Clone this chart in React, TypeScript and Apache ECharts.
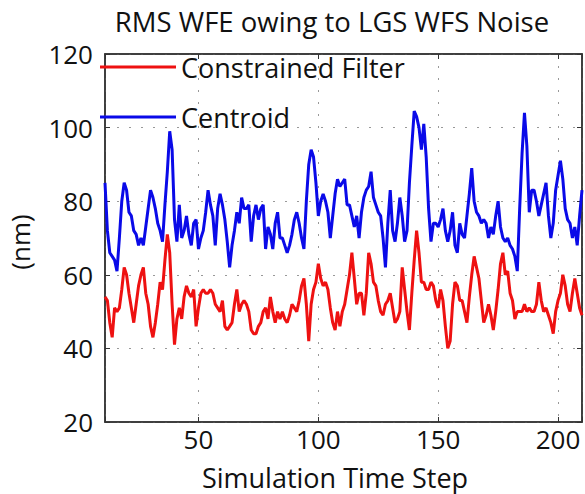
import React, { useEffect, useRef } from "react";
import * as echarts from "echarts";

const xStart = 11;
const seriesNames = ["Constrained Filter", "Centroid"];
const xTicks = [50, 100, 150, 200];
const yTicks = [20, 40, 60, 80, 100, 120];

const constrained = [
  54, 53, 47, 43, 51, 50, 51, 56, 62, 60, 55, 51, 47, 52, 57, 60, 62, 55, 52, 46,
  43, 47, 52, 58, 56, 64, 71, 66, 52, 41, 48, 51, 48, 54, 57, 55, 54, 56, 46, 51,
  55, 56, 55, 55, 56, 55, 52, 51, 50, 53, 46, 45, 46, 47, 52, 56, 50, 52, 53, 52,
  50, 45, 44, 44, 46, 47, 50, 51, 48, 54, 50, 47, 50, 48, 50, 48, 47, 49, 52, 51,
  50, 53, 57, 59, 52, 42, 52, 56, 58, 63, 59, 57, 58, 56, 51, 47, 45, 50, 46, 50,
  52, 56, 60, 66, 59, 52, 55, 55, 49, 55, 66, 63, 58, 57, 53, 50, 49, 52, 53, 55,
  51, 47, 48, 50, 62, 56, 50, 45, 55, 64, 72, 66, 58, 58, 56, 56, 58, 57, 53, 51,
  56, 53, 46, 40, 42, 52, 58, 57, 53, 53, 50, 47, 54, 60, 65, 62, 59, 53, 47, 49,
  52, 49, 45, 50, 56, 63, 66, 60, 61, 55, 53, 48, 50, 50, 50, 52, 50, 51, 50, 50,
  52, 58, 53, 50, 51, 49, 47, 44, 50, 53, 55, 60, 57, 52, 50, 55, 59, 55, 51, 49,
];

const centroid = [
  85, 72, 66, 65, 64, 61, 70, 80, 85, 83, 77, 76, 72, 71, 68, 70, 68, 73, 78, 83,
  81, 78, 74, 72, 69, 79, 88, 99, 94, 75, 69, 79, 70, 72, 76, 71, 68, 74, 75, 67,
  70, 72, 77, 83, 79, 76, 68, 78, 82, 79, 75, 69, 62, 68, 72, 77, 74, 81, 78, 78,
  79, 69, 76, 79, 75, 78, 79, 67, 73, 71, 67, 74, 77, 70, 70, 68, 66, 68, 71, 75,
  77, 74, 70, 67, 80, 90, 94, 92, 85, 76, 80, 82, 80, 77, 70, 76, 82, 86, 84, 85,
  86, 79, 79, 76, 73, 76, 70, 77, 81, 83, 84, 88, 81, 79, 77, 76, 70, 62, 74, 83,
  72, 69, 74, 81, 76, 69, 72, 85, 95, 104.5, 103, 100, 94, 101, 92, 78, 69, 74, 74, 73,
  75, 78, 72, 69, 72, 77, 68, 66, 74, 71, 70, 76, 82, 89, 80, 77, 76, 74, 75, 74,
  70, 73, 71, 76, 80, 73, 70, 69, 70, 68, 67, 65, 61, 78, 93, 104, 95, 77, 83, 83,
  80, 76, 79, 82, 85, 76, 70, 74, 83, 87, 91, 86, 78, 75, 74, 70, 73, 68, 76, 83,
];

const FONT = '"Open Sans", "Noto Sans", sans-serif';
const RED = "#ee1111";
const BLUE = "#0a0ae8";

export default function App() {
  const ref = useRef<HTMLDivElement>(null);
  useEffect(() => {
    if (!ref.current) return;
    const chart = echarts.init(ref.current, null, { renderer: "svg" });
    const toPairs = (arr: number[]) => arr.map((v, i) => [xStart + i, v]);
    const xMin = xStart;
    const xMax = xStart + centroid.length - 1;
    const tickFmt = (v: number) => (xTicks.includes(v) ? String(v) : "");
    const yFmt = (v: number) => (yTicks.includes(v) ? String(v) : "");
    chart.setOption({
      animation: false,
      backgroundColor: "#ffffff",
      grid: {
        left: 105,
        top: 54,
        right: 1,
        bottom: 72,
        show: true,
        borderColor: "#333",
        borderWidth: 1.5,
      },
      legend: {
        data: seriesNames.map((n, i) => ({
          name: n,
          icon: "rect",
          itemStyle: { color: i === 0 ? RED : BLUE },
        })),
        orient: "vertical",
        left: 100,
        top: 52,
        itemWidth: 76,
        itemHeight: 3,
        itemGap: 20,
        padding: 0,
        textStyle: { fontSize: 27, color: "#111", fontFamily: FONT, lineHeight: 30 },
      },
      xAxis: [
        {
          type: "value",
          min: xMin,
          max: xMax,
          minInterval: 50,
          maxInterval: 50,
          axisLine: { show: true, lineStyle: { color: "#333", width: 1.5 } },
          axisTick: { show: true, inside: true, length: 5, lineStyle: { color: "#333" } },
          axisLabel: {
            formatter: tickFmt,
            fontSize: 26,
            color: "#111",
            fontFamily: FONT,
            margin: 4,
          },
          splitLine: {
            show: true,
            lineStyle: { color: "#999", type: [2, 10], width: 1 },
          },
        },
        {
          type: "value",
          position: "top",
          min: xMin,
          max: xMax,
          minInterval: 50,
          maxInterval: 50,
          axisLine: { show: true, lineStyle: { color: "#333", width: 1.5 } },
          axisTick: { show: true, inside: true, length: 5, lineStyle: { color: "#333" } },
          axisLabel: { show: false },
          splitLine: { show: false },
        },
      ],
      yAxis: [
        {
          type: "value",
          min: 20,
          max: 120,
          interval: 20,
          axisLine: { show: true, lineStyle: { color: "#333", width: 1.5 } },
          axisTick: { show: true, inside: true, length: 5, lineStyle: { color: "#333" } },
          axisLabel: {
            formatter: yFmt,
            fontSize: 26,
            color: "#111",
            fontFamily: FONT,
            margin: 12,
          },
          splitLine: {
            show: true,
            lineStyle: { color: "#999", type: [2, 10], width: 1 },
          },
        },
        {
          type: "value",
          position: "right",
          min: 20,
          max: 120,
          interval: 20,
          axisLine: { show: true, lineStyle: { color: "#333", width: 1.5 } },
          axisTick: { show: true, inside: true, length: 5, lineStyle: { color: "#333" } },
          axisLabel: { show: false },
          splitLine: { show: false },
        },
      ],
      series: [
        {
          name: seriesNames[0],
          type: "line",
          data: toPairs(constrained),
          showSymbol: false,
          symbol: "none",
          itemStyle: { color: RED },
          lineStyle: { color: RED, width: 3 },
        },
        {
          name: seriesNames[1],
          type: "line",
          data: toPairs(centroid),
          showSymbol: false,
          symbol: "none",
          itemStyle: { color: BLUE },
          lineStyle: { color: BLUE, width: 3 },
        },
      ],
      graphic: [
        {
          type: "text",
          x: 332,
          y: 21,
          style: {
            text: "RMS WFE owing to LGS WFS Noise",
            font: `27.5px ${FONT}`,
            fill: "#111",
            textAlign: "center",
            textVerticalAlign: "middle",
          },
        },
        {
          type: "text",
          x: 335,
          y: 477,
          style: {
            text: "Simulation Time Step",
            font: `27px ${FONT}`,
            fill: "#111",
            textAlign: "center",
            textVerticalAlign: "middle",
          },
        },
        {
          type: "text",
          x: 20,
          y: 242,
          rotation: Math.PI / 2,
          style: {
            text: "(nm)",
            font: `26px ${FONT}`,
            fill: "#111",
            textAlign: "center",
            textVerticalAlign: "middle",
          },
        },
      ],
    });
    return () => chart.dispose();
  }, []);
  return (
    <div
      ref={ref}
      style={{ position: "absolute", left: 0, top: 0, width: 585, height: 494 }}
    />
  );
}
